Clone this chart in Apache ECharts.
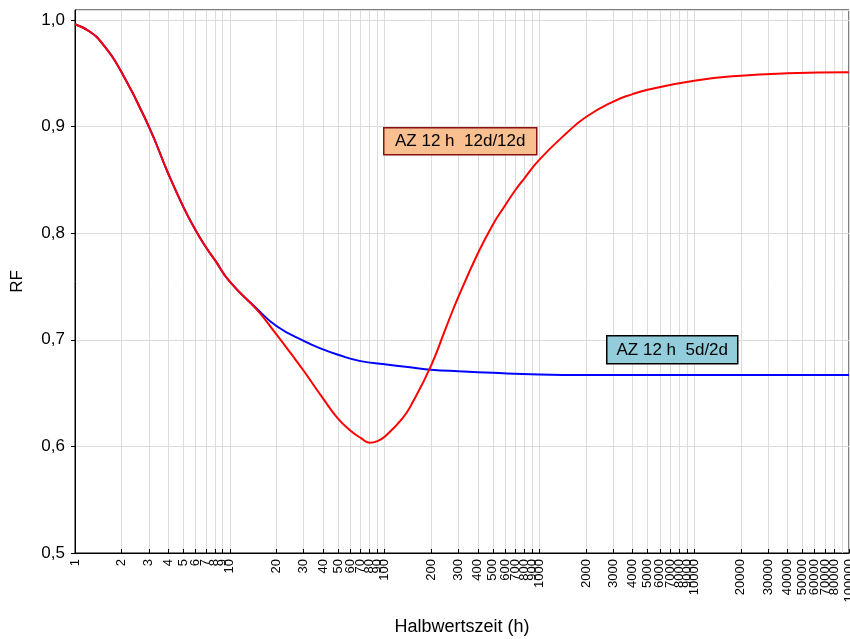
<!DOCTYPE html>
<html>
<head>
<meta charset="utf-8">
<script src="https://cdn.jsdelivr.net/npm/echarts@6/dist/echarts.min.js"></script>
<style>
  html, body { margin: 0; padding: 0; background: #fff; }
  #chart { width: 850px; height: 639px; }
</style>
</head>
<body>
<div id="chart"></div>
<script>
// Halbwertszeit (h) and RF, AZ 12 h 12d/12d
const hours12d = [1, 1.25, 1.5, 2, 3, 4, 5, 6, 7, 8, 10,
  15, 20, 25, 30, 40, 50, 60, 70, 80, 90, 100,
  130, 150, 200, 250, 300, 400, 500, 600, 700, 800, 1000,
  1500, 2000, 3000, 4000, 5000, 10000, 20000, 40000, 100000]
const rf12d = [0.996, 0.989, 0.978, 0.951, 0.900, 0.856, 0.825, 0.803, 0.787, 0.775, 0.7545,
  0.728, 0.705, 0.6865, 0.671, 0.645, 0.626, 0.615, 0.608, 0.6035, 0.605, 0.609,
  0.626, 0.640, 0.676, 0.712, 0.7405, 0.781, 0.808, 0.826, 0.8405, 0.8515, 0.869,
  0.894, 0.909, 0.9235, 0.9305, 0.9345, 0.943, 0.9478, 0.950, 0.951]
// AZ 12 h 5d/2d
const hours5d = [1, 1.25, 1.5, 2, 3, 4, 5, 6, 7, 8, 10,
  15, 20, 30, 40, 50, 70, 100, 150, 200, 300, 500, 1000, 2000, 5000, 100000]
const rf5d = [0.996, 0.989, 0.978, 0.951, 0.900, 0.856, 0.825, 0.803, 0.787, 0.775, 0.7545,
  0.729, 0.713, 0.699, 0.691, 0.686, 0.680, 0.677, 0.674, 0.672, 0.6705, 0.669, 0.6675, 0.667, 0.667, 0.667]
// x tick positions 1..9 per decade up to 100000
const xTicks = []
for (let k = 0; k < 5; k++) {
  for (let m = 1; m <= 9; m++) xTicks.push(m * Math.pow(10, k))
}
xTicks.push(100000)

const logTicks = xTicks.map(v => Math.log10(v))
const toPts = (xs, ys) => xs.map((h, i) => [Math.log10(h), ys[i]])
const font = '"Liberation Sans", Arial, sans-serif'

const myChart = echarts.init(document.getElementById('chart'))
myChart.setOption({
  animation: false,
  textStyle: { fontFamily: font },
  grid: {
    left: 75,
    right: 1,
    top: 10,
    bottom: 86,
    outerBoundsMode: 'none',
    containLabel: false,
    show: true,
    borderColor: '#000',
    borderWidth: 1,
  },
  xAxis: {
    type: 'value',
    min: 0,
    max: 5,
    name: 'Halbwertszeit (h)',
    nameLocation: 'middle',
    nameGap: 65,
    nameTextStyle: { fontSize: 18, color: '#000' },
    axisLine: { lineStyle: { color: '#000', width: 1 } },
    axisTick: {
      customValues: logTicks,
      inside: true,
      length: 4,
      lineStyle: { color: '#000' },
    },
    axisLabel: {
      customValues: logTicks,
      rotate: 90,
      fontSize: 13,
      color: '#000',
      margin: 6,
      hideOverlap: false,
      showMinLabel: true,
      showMaxLabel: true,
      formatter: v => String(Math.round(Math.pow(10, v))),
    },
    splitLine: {
      show: true,
      lineStyle: { color: '#dcdcdc', width: 1 },
    },
  },
  yAxis: {
    type: 'value',
    min: 0.5,
    max: 1.0094,
    interval: 0.1,
    name: 'RF',
    nameLocation: 'middle',
    nameGap: 49,
    nameTextStyle: { fontSize: 17, color: '#000' },
    axisLine: { show: true, lineStyle: { color: '#000', width: 1 } },
    axisTick: { show: true, inside: false, length: 4, lineStyle: { color: '#000' } },
    axisLabel: {
      fontSize: 17,
      color: '#000',
      margin: 10,
      showMaxLabel: false,
      formatter: v => v.toFixed(1).replace('.', ','),
    },
    splitLine: { lineStyle: { color: '#dcdcdc', width: 1 } },
  },
  series: [
    {
      name: 'AZ 12 h  5d/2d',
      type: 'line',
      data: toPts(hours5d, rf5d),
      smooth: 0.5,
      showSymbol: false,
      lineStyle: { color: '#0000ff', width: 2 },
      z: 2,
    },
    {
      name: 'AZ 12 h  12d/12d',
      type: 'line',
      data: toPts(hours12d, rf12d),
      smooth: 0.5,
      showSymbol: false,
      lineStyle: { color: '#ff0000', width: 2 },
      z: 3,
    },
  ],
  graphic: [
    {
      type: 'group',
      left: 383,
      top: 127,
      z: 100,
      children: [
        { type: 'rect', z: 100, shape: { x: 0, y: 0, width: 153, height: 27 },
          style: { fill: '#f8bf91', stroke: '#8b1010', lineWidth: 1.5 } },
        { type: 'text', z: 101, x: 76.5, y: 14,
          style: { text: 'AZ 12 h  12d/12d', fill: '#000', font: '17px ' + font, align: 'center', verticalAlign: 'middle' } },
      ],
    },
    {
      type: 'group',
      left: 606,
      top: 335,
      z: 100,
      children: [
        { type: 'rect', z: 100, shape: { x: 0, y: 0, width: 131, height: 28 },
          style: { fill: '#93cddc', stroke: '#000', lineWidth: 1.5 } },
        { type: 'text', z: 101, x: 65.5, y: 14.5,
          style: { text: 'AZ 12 h  5d/2d', fill: '#000', font: '17px ' + font, align: 'center', verticalAlign: 'middle' } },
      ],
    },
  ],
})
</script>
</body>
</html>
